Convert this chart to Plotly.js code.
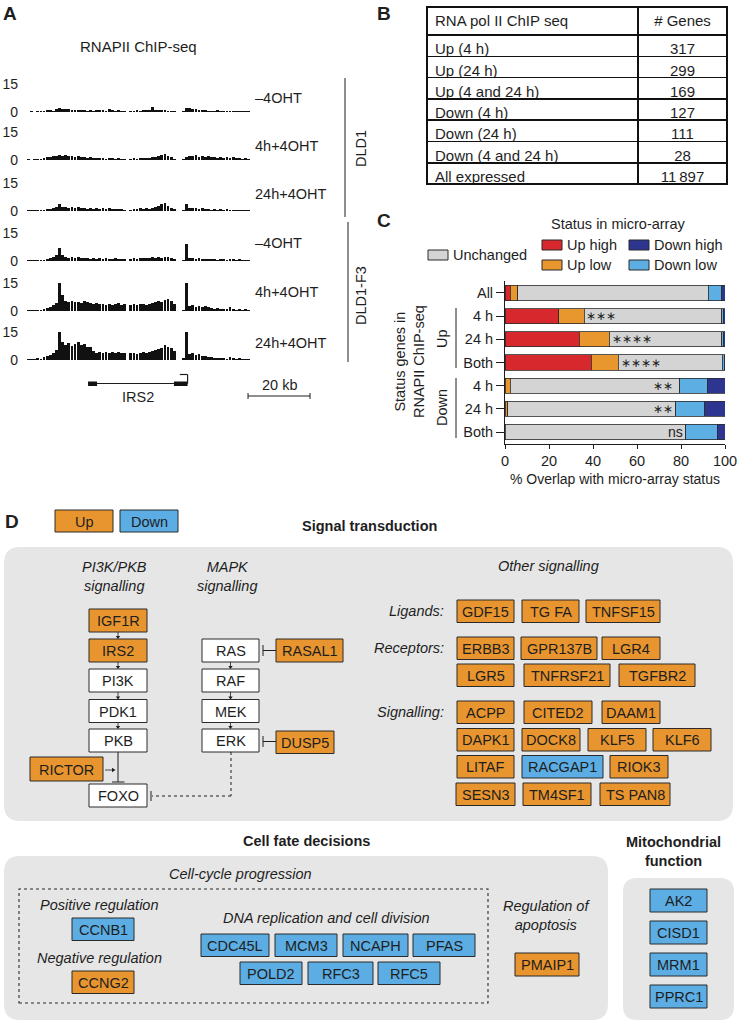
<!DOCTYPE html>
<html>
<head>
<meta charset="utf-8">
<script src="https://cdn.plot.ly/plotly-3.0.1.min.js"></script>
<style>
  html, body { margin: 0; padding: 0; background: #fff; overflow: hidden; }
  #chart { width: 738px; height: 1021px; }
</style>
</head>
<body>
<div id="chart"></div>
<script>
// ---------- A: RNAPII ChIP-seq coverage over IRS2 (1 kb bins) ----------
const trackNames = ['–4OHT', '4h+4OHT', '24h+4OHT', '–4OHT', '4h+4OHT', '24h+4OHT'];
const dld1Minus = [0.2,0.3,0.2,0.5,0.3, 0.6,0.9,1.2,0.8, 1.6, 2.2, 1.4,
  1.8,1.5,1.2,1.0,1.3,0.9,1.1,0.8,1.0, 0.7,1.2,0.9,1.0,0.8,1.4,1.1,0.7,0.9,0.6,0.5, 0,
  0.5,0.8,1.0,0.7,1.1,0.9,1.2,2.8, 1.2,1.0,0.9,1.1,0.8,0.6,0.4, 0,0, 0.4, 2.4,
  2.2,1.8,1.4,1.0,0.9,1.1,0.7, 0.8,0.6,0.9,0.5,0.7,0.6,0.4,0.8,0.5,0.6,0.3,0.5,0.3];
const dld1H4 = [0.8,0.2,0.4,0.3,0.6, 0.9,1.4,1.8,2.2, 2.0, 2.8, 2.4,
  2.6,2.0,2.3,1.8,2.1,1.5,1.8,1.2,1.4, 1.0,1.3,0.9,1.1,0.8,1.2,0.9,0.7,1.0,0.8,0.6, 0,
  0.6,1.0,0.8,1.2,0.9,1.1,1.3,1.5, 1.8,2.2,2.6,3.4,2.0,1.4,0.8, 0,0, 0.6, 1.8,
  2.4,2.0,2.6,1.8,2.2,1.6,2.0, 1.4,1.8,1.2,1.6,1.3,1.5,1.1,1.4,0.9,1.2,0.8,1.0,0.6];
const dld1H24 = [0.3,0.4,0.3,0.5,0.6, 0.8,1.0,1.3,1.6, 2.2, 3.8, 2.0,
  2.2,1.8,2.0,1.6,1.9,1.4,1.7,1.2,1.5, 1.3,1.6,1.1,1.4,1.0,1.5,1.2,0.9,1.3,1.0,0.8, 0,
  0.8,1.2,1.0,1.4,1.1,1.6,1.3,1.8, 2.0,2.6,3.8,4.2,2.8,1.8,1.0, 0,0, 0.6, 3.8,
  1.6,1.4,1.8,1.2,1.5,1.0,1.3, 0.8,1.1,0.7,1.0,0.6,0.9,0.7,0.5,0.8,0.6,0.4,0.6,0.3];
const f3Minus = [0.3,0.5,0.4,0.6,0.5, 0.8,1.0,1.4,2.0, 3.2, 7.0, 3.0,
  2.2,1.8,2.0,1.6,1.9,1.4,1.7,1.5,1.3, 1.6,1.2,1.4,1.1,1.5,1.3,1.0,1.4,1.2,0.9,1.1, 0,
  1.2,1.6,1.3,1.8,1.4,1.7,1.5,1.9, 1.6,2.0,1.8,2.4,2.0,1.7,1.2, 0,0, 0.6, 9.0,
  1.8,1.5,1.2,1.4,1.0,1.3,1.1, 0.9,1.2,0.8,1.0,1.3,0.7,1.1,0.9,0.6,1.0,0.5,0.7,0.4];
const f3H4 = [0.4,0.6,0.3,0.8,0.5, 1.2,1.8,2.4,3.2, 4.5, 15, 8.5,
  5.5,4.6,5.2,4.8,5.0,4.4,5.3,4.7,4.2, 3.8,4.2,3.6,4.0,3.4,3.9,3.2,3.6,4.1,3.0,3.6, 0,
  3.2,3.8,3.0,3.5,4.0,3.3,3.7,4.2, 4.6,5.2,4.8,5.8,6.2,5.4,4.0, 0,0, 0.8, 15,
  2.8,3.2,2.4,2.9,2.2,2.6,2.0, 1.6,1.2,1.4,1.0,1.3,0.9,2.0,1.1,0.8,1.2,0.6,0.9,0.5];
const f3H24 = [0.5,0.8,0.4,1.0,0.7, 1.4,2.0,2.6,3.6, 5.5, 15,
  9.5,8.2,9.0,7.6,8.8,9.4,7.8,8.4,7.2,6.8, 4.6,4.0,4.4,3.8,4.2,3.6,4.4,3.9,4.3,3.5,4.0, 0,
  3.6,4.0,3.4,3.8,4.2,3.6,4.4,4.8, 5.4,6.0,6.6,7.8,7.2,6.4,4.6, 0,0, 1.0, 15,
  3.2,3.6,2.8,3.0,2.4,2.0,1.6, 1.4,1.1,1.3,0.9,1.2,0.8,1.5,1.0,0.7,1.1,0.6,0.8,0.5];
const tracks = [dld1Minus, dld1H4, dld1H24, f3Minus, f3H4, f3H24];
const irs2Span = [19.7, 51.8];               // kb
const irs2Exons = [[19.7, 22.6], [47.4, 51.8]];
const scaleBarKb = [71.3, 91.3];

// ---------- B: gene counts ----------
const tableRows = ['Up (4 h)', 'Up (24 h)', 'Up (4 and 24 h)', 'Down (4 h)', 'Down (24 h)', 'Down (4 and 24 h)', 'All expressed'];
const tableGenes = ['317', '299', '169', '127', '111', '28', '11\u2009897'];

// ---------- C: overlap with micro-array status (%) ----------
const cRows = ['All', '4 h', '24 h', 'Both', '4 h', '24 h', 'Both'];
const upHigh    = [2.3, 24.5, 33.8, 39.1, 0, 0, 0];
const upLow     = [3.5, 11.6, 13.6, 12.4, 2.3, 1.2, 0];
const unchanged = [86.6, 62.4, 51.1, 47.3, 77.2, 76.4, 82.1];
const downLow   = [6.1, 1.0, 1.0, 0.8, 12.5, 13.3, 14.3];
const downHigh  = [1.5, 0.5, 0.5, 0.4, 8.0, 9.1, 3.6];
const sigText = ['', '∗∗∗', '∗∗∗∗', '∗∗∗∗', '∗∗', '∗∗', 'ns'];
const sigX    = [null, 43.5, 57.9, 61.7, 72.0, 71.7, 77.7];

// ---------- D: gene groups ----------
const pi3kGenes = ['IGF1R', 'IRS2', 'PI3K', 'PDK1', 'PKB'];
const pi3kStatus = ['up', 'up', '', '', ''];
const mapkGenes = ['RAS', 'RAF', 'MEK', 'ERK'];
const ligandGenes = ['GDF15', 'TG FA', 'TNFSF15'];
const receptorGenes = ['ERBB3', 'GPR137B', 'LGR4', 'LGR5', 'TNFRSF21', 'TGFBR2'];
const signallingGenes = ['ACPP', 'CITED2', 'DAAM1', 'DAPK1', 'DOCK8', 'KLF5', 'KLF6',
  'LITAF', 'RACGAP1', 'RIOK3', 'SESN3', 'TM4SF1', 'TS PAN8'];
const signallingStatus = ['up', 'up', 'up', 'up', 'up', 'up', 'up', 'up', 'down', 'up', 'up', 'up', 'up'];
const dnaGenes = ['CDC45L', 'MCM3', 'NCAPH', 'PFAS', 'POLD2', 'RFC3', 'RFC5'];
const mitoGenes = ['AK2', 'CISD1', 'MRM1', 'PPRC1'];

// ---------- styling ----------
const W = 738, H = 1021;
const FONT = 'Liberation Sans, Arial, Helvetica, sans-serif';
const INK = '#1e1e1e';
const ORANGE = '#e8952f', BLUE = '#5badE3', PANEL = '#e6e6e6';
const cColors = { upHigh: '#d7282e', upLow: '#e8972f', unchanged: '#d4d4d4', downLow: '#5caee3', downHigh: '#2d3590' };

const px = x => x / W;
const py = y => 1 - y / H;
const shapes = [];
const annotations = [];

function txt(s, x, y, o = {}) {
  annotations.push({
    xref: o.xref || 'paper', yref: 'paper',
    x: o.xref ? x : px(x), y: py(y), text: s, showarrow: false,
    xanchor: o.xanchor || 'center', yanchor: 'middle', textangle: o.angle || 0,
    font: { family: FONT, size: o.size || 14.5, color: INK }
  });
}
function line(x0, y0, x1, y1, o = {}) {
  shapes.push({ type: 'line', xref: o.xref || 'paper', yref: 'paper',
    x0: o.xref ? x0 : px(x0), x1: o.xref ? x1 : px(x1), y0: py(y0), y1: py(y1),
    line: { color: INK, width: o.width || 1, dash: o.dash || 'solid' } });
}
function rect(x0, y0, x1, y1, fill, o = {}) {
  shapes.push({ type: 'rect', xref: o.xref || 'paper', yref: 'paper',
    x0: o.xref ? x0 : px(x0), x1: o.xref ? x1 : px(x1), y0: py(y1), y1: py(y0),
    fillcolor: fill, line: { color: o.lineColor || '#2a2a2a', width: o.width === undefined ? 1 : o.width } });
}
const P = (x, y) => `${px(x)},${py(y)}`;
function roundPanel(x0, y0, x1, y1, r) {
  const d = `M${P(x0 + r, y0)} L${P(x1 - r, y0)} Q${P(x1, y0)} ${P(x1, y0 + r)} L${P(x1, y1 - r)} ` +
    `Q${P(x1, y1)} ${P(x1 - r, y1)} L${P(x0 + r, y1)} Q${P(x0, y1)} ${P(x0, y1 - r)} L${P(x0, y0 + r)} Q${P(x0, y0)} ${P(x0 + r, y0)} Z`;
  shapes.push({ type: 'path', xref: 'paper', yref: 'paper', path: d, fillcolor: PANEL, line: { width: 0 }, layer: 'below' });
}
function geneBox(name, status, x0, y0, x1, y1) {
  rect(x0, y0, x1, y1, status === 'up' ? ORANGE : status === 'down' ? BLUE : '#ffffff');
  txt(name, (x0 + x1) / 2, (y0 + y1) / 2 + 0.5);
}
function arrowDown(x, y0, y1) {
  line(x, y0, x, y1 - 2.5, { width: 0.8 });
  shapes.push({ type: 'path', xref: 'paper', yref: 'paper', path: `M${P(x - 2.2, y1 - 3)} L${P(x + 2.2, y1 - 3)} L${P(x, y1)} Z`,
    fillcolor: INK, line: { width: 0 } });
}

// ---------- panel letters ----------
txt('<b>A</b>', 10, 13, { size: 19 });
txt('<b>B</b>', 384, 13, { size: 19 });
txt('<b>C</b>', 384, 220, { size: 19 });
txt('<b>D</b>', 12, 521, { size: 19 });

// ---------- A ----------
const trackBase = [112, 160, 211, 261, 311, 360];
const trackLabelY = [98, 146, 194, 243, 292, 343];
const trackH = 28;
const kbPx = 3.1, trackX0 = 27, kbMax = 95;
const data = [];
const layout = {
  width: W, height: H, margin: { l: 0, r: 0, t: 0, b: 0 },
  paper_bgcolor: '#fff', plot_bgcolor: 'rgba(0,0,0,0)',
  showlegend: false, barmode: 'stack',
  font: { family: FONT, color: INK },
  xaxis: { domain: [px(trackX0), px(trackX0 + kbMax * kbPx)], range: [0, kbMax], visible: false, anchor: 'y', fixedrange: true }
};
tracks.forEach((vals, k) => {
  const yName = k === 0 ? 'y' : 'y' + (k + 1);
  data.push({ type: 'bar', x: vals.map((_, i) => i + 0.5), y: vals, xaxis: 'x', yaxis: yName,
    width: 0.88, marker: { color: '#111', line: { width: 0 } }, hoverinfo: 'skip' });
  layout[k === 0 ? 'yaxis' : 'yaxis' + (k + 1)] = {
    domain: [py(trackBase[k]), py(trackBase[k] - trackH)], range: [0, 15], anchor: 'x',
    tickvals: [0, 15], ticks: '', showgrid: false, zeroline: false, showline: false,
    ticklabelstandoff: 8, tickfont: { size: 14, color: INK }, fixedrange: true
  };
  txt(trackNames[k], 253, trackLabelY[k], { xanchor: 'left', size: 14.5 });
});
txt('RNAPII ChIP-seq', 138, 46, { size: 15 });
line(345, 78, 345, 217);
line(348, 222, 348, 362);
txt('DLD1', 361, 149, { angle: -90, size: 14.5 });
txt('DLD1-F3', 361, 296, { angle: -90, size: 14.5 });
// gene model
line(irs2Span[0], 383.5, irs2Span[1], 383.5, { xref: 'x', width: 1.2 });
irs2Exons.forEach(e => rect(e[0], 381.5, e[1], 386, '#111', { xref: 'x', width: 0 }));
line(irs2Span[1], 383.5, irs2Span[1], 374.5, { xref: 'x', width: 1.2 });
line(irs2Span[1], 374.5, irs2Span[1] - 2.5, 374.5, { xref: 'x', width: 1.2 });
txt('IRS2', (irs2Span[0] + irs2Span[1]) / 2, 397, { xref: 'x', size: 14.5 });
line(scaleBarKb[0], 396, scaleBarKb[1], 396, { xref: 'x', width: 1 });
line(scaleBarKb[0], 393, scaleBarKb[0], 399, { xref: 'x', width: 1 });
line(scaleBarKb[1], 393, scaleBarKb[1], 399, { xref: 'x', width: 1 });
txt('20 kb', (scaleBarKb[0] + scaleBarKb[1]) / 2, 385, { xref: 'x', size: 14.5 });

// ---------- B ----------
data.push({
  type: 'table', domain: { x: [px(427), px(727)], y: [py(187), py(7)] },
  columnwidth: [211, 89],
  header: { values: ['RNA pol II ChIP seq', '# Genes'], align: ['left', 'center'], height: 28,
    line: { color: '#111', width: 1.5 }, fill: { color: '#fff' }, font: { family: FONT, size: 15, color: INK } },
  cells: { values: [tableRows, tableGenes], align: ['left', 'center'], height: 21.3,
    line: { color: '#111', width: 1.5 }, fill: { color: '#fff' }, font: { family: FONT, size: 15, color: INK } }
});
rect(427, 7, 727, 7 + 28 + 7 * 21.3, 'rgba(0,0,0,0)', { width: 2, lineColor: '#111' });

// ---------- C ----------
const cIdx = cRows.map((_, i) => i);
const cSeries = [
  ['Up high', upHigh, cColors.upHigh], ['Up low', upLow, cColors.upLow], ['Unchanged', unchanged, cColors.unchanged],
  ['Down low', downLow, cColors.downLow], ['Down high', downHigh, cColors.downHigh]
];
cSeries.forEach(([name, vals, col]) => data.push({
  type: 'bar', orientation: 'h', name: name, x: vals, y: cIdx, xaxis: 'x2', yaxis: 'y7', width: 0.65,
  marker: { color: col, line: { color: '#2a2a2a', width: 0.8 } }, hoverinfo: 'skip'
}));
layout.xaxis2 = { domain: [px(505), px(725)], range: [0, 100], anchor: 'y7', tickvals: [0, 20, 40, 60, 80, 100],
  ticks: 'outside', ticklen: 4, tickcolor: INK, showline: true, linecolor: INK, linewidth: 1, showgrid: false, zeroline: false,
  tickfont: { size: 14.5, color: INK }, title: { text: '% Overlap with micro-array status', font: { size: 14, color: INK }, standoff: 6 }, fixedrange: true };
layout.yaxis7 = { domain: [py(443.6), py(281.4)], range: [6.5, -0.5], anchor: 'x2', tickvals: cIdx, ticktext: cRows,
  ticks: 'outside', ticklen: 8, tickcolor: INK, showline: true, linecolor: INK, linewidth: 1, showgrid: false, zeroline: false,
  tickfont: { size: 14.5, color: INK }, fixedrange: true };
sigText.forEach((s, i) => {
  if (!s) return;
  annotations.push({ xref: 'x2', yref: 'y7', x: sigX[i], y: i, text: s, showarrow: false, xanchor: 'center', yanchor: 'middle',
    font: { family: FONT, size: s === 'ns' ? 14 : 12, color: INK } });
});
line(456, 308, 456, 368);
line(456, 378, 456, 438);
txt('Up', 442, 339, { angle: -90 });
txt('Down', 442, 408, { angle: -90 });
txt('Status genes in<br>RNAPII ChIP-seq', 409, 362, { angle: -90, size: 14.5 });
// legend
txt('Status in micro-array', 618, 224, { size: 14.5 });
const legendPos = { 'Unchanged': [428, 255], 'Up high': [542, 245], 'Up low': [542, 265], 'Down high': [629, 245], 'Down low': [629, 265] };
cSeries.forEach(([name, , col]) => {
  const [lx, ly] = legendPos[name];
  rect(lx, ly - 5, lx + 20, ly + 5, col);
  txt(name, lx + 23, ly, { xanchor: 'left', size: 14.5 });
});

// ---------- D ----------
roundPanel(4, 547, 733, 821, 16);
roundPanel(4, 856, 608, 1020, 16);
roundPanel(623, 878, 734, 1020, 14);
geneBox('Up', 'up', 55, 510, 113, 532);
geneBox('Down', 'down', 120, 510, 178, 532);
txt('<b>Signal transduction</b>', 370, 526, { size: 14.5 });
txt('<i>PI3K/PKB<br>signalling</i>', 115, 576, { size: 14.5 });
txt('<i>MAPK<br>signalling</i>', 227, 576, { size: 14.5 });
txt('<i>Other signalling</i>', 548, 566, { size: 14.5 });

const chainY = [609, 639, 669, 699.5, 729];
const boxH = 23;
pi3kGenes.forEach((g, i) => {
  geneBox(g, pi3kStatus[i], 89, chainY[i], 147, chainY[i] + boxH);
  if (i > 0) arrowDown(118, chainY[i - 1] + boxH, chainY[i]);
});
mapkGenes.forEach((g, i) => {
  geneBox(g, '', 202, chainY[i + 1], 259, chainY[i + 1] + boxH);
  if (i > 0) arrowDown(230.5, chainY[i] + boxH, chainY[i + 1]);
});
geneBox('RASAL1', 'up', 276, 639, 343, 662);
line(276, 650.5, 263, 650.5); line(263, 645, 263, 656);
geneBox('DUSP5', 'up', 276, 731, 334, 753.5);
line(276, 741.5, 263, 741.5); line(263, 736, 263, 747);
geneBox('RICTOR', 'up', 30, 757, 103, 781);
geneBox('FOXO', '', 89, 784, 147, 807);
line(118, 752, 118, 782); line(112, 782, 124.5, 782);
line(105, 770, 112, 770, { width: 0.8 });
shapes.push({ type: 'path', xref: 'paper', yref: 'paper', path: `M${P(112, 767.8)} L${P(112, 772.2)} L${P(115.5, 770)} Z`, fillcolor: INK, line: { width: 0 } });
line(231, 752, 231, 796, { dash: 'dot' });
line(231, 796, 152, 796, { dash: 'dot' });
line(151, 791, 151, 801);

// other signalling rows
txt('<i>Ligands:</i>', 446, 611, { xanchor: 'right' });
txt('<i>Receptors:</i>', 446, 648, { xanchor: 'right' });
txt('<i>Signalling:</i>', 446, 712, { xanchor: 'right' });
const ligandBoxes = [[457, 514, 600], [522, 579, 600], [586, 660, 600]];
const receptorBoxes = [[457, 514, 637], [521, 597, 637], [602, 660, 637], [457, 514, 664], [524, 610, 664], [619, 695, 664]];
const signallingBoxes = [[457, 514, 701], [524, 592, 701], [602, 660, 701],
  [457, 514, 728.5], [522, 580, 728.5], [588, 646, 728.5], [653, 711, 728.5],
  [457, 514, 755.5], [522, 603, 755.5], [610, 668, 755.5],
  [456, 515, 783], [523, 591, 783], [600, 670, 783]];
ligandGenes.forEach((g, i) => { const b = ligandBoxes[i]; geneBox(g, 'up', b[0], b[2], b[1], b[2] + 22.5); });
receptorGenes.forEach((g, i) => { const b = receptorBoxes[i]; geneBox(g, 'up', b[0], b[2], b[1], b[2] + 22.5); });
signallingGenes.forEach((g, i) => { const b = signallingBoxes[i]; geneBox(g, signallingStatus[i], b[0], b[2], b[1], b[2] + 22.5); });

// cell fate
txt('<b>Cell fate decisions</b>', 306, 841);
txt('<b>Mitochondrial<br>function</b>', 673, 851);
txt('<i>Cell-cycle progression</i>', 240, 874);
rect(19, 889, 488, 1003, 'rgba(0,0,0,0)', { width: 1.1 });
shapes[shapes.length - 1].line.dash = 'dot';
txt('<i>Positive regulation</i>', 100, 905);
geneBox('CCNB1', 'down', 72, 918, 134, 940.5);
txt('<i>Negative regulation</i>', 100, 958);
geneBox('CCNG2', 'up', 72, 971, 134, 993.5);
txt('<i>DNA replication and cell division</i>', 326, 918);
const dnaBoxes = [[201, 269, 934], [275, 337, 934], [343, 408, 934], [413, 475, 934],
  [240, 302, 962], [308, 373, 962], [378, 440, 962]];
dnaGenes.forEach((g, i) => { const b = dnaBoxes[i]; geneBox(g, 'down', b[0], b[2], b[1], b[2] + 22.5); });
txt('<i>Regulation of<br>apoptosis</i>', 546, 915);
geneBox('PMAIP1', 'up', 515, 953, 579, 976);
const mitoY = [889, 921, 953, 985];
mitoGenes.forEach((g, i) => geneBox(g, 'down', 650, mitoY[i], 707, mitoY[i] + 23));

layout.shapes = shapes;
layout.annotations = annotations;

Plotly.newPlot('chart', data, layout, { displayModeBar: false, staticPlot: true });
</script>
</body>
</html>
